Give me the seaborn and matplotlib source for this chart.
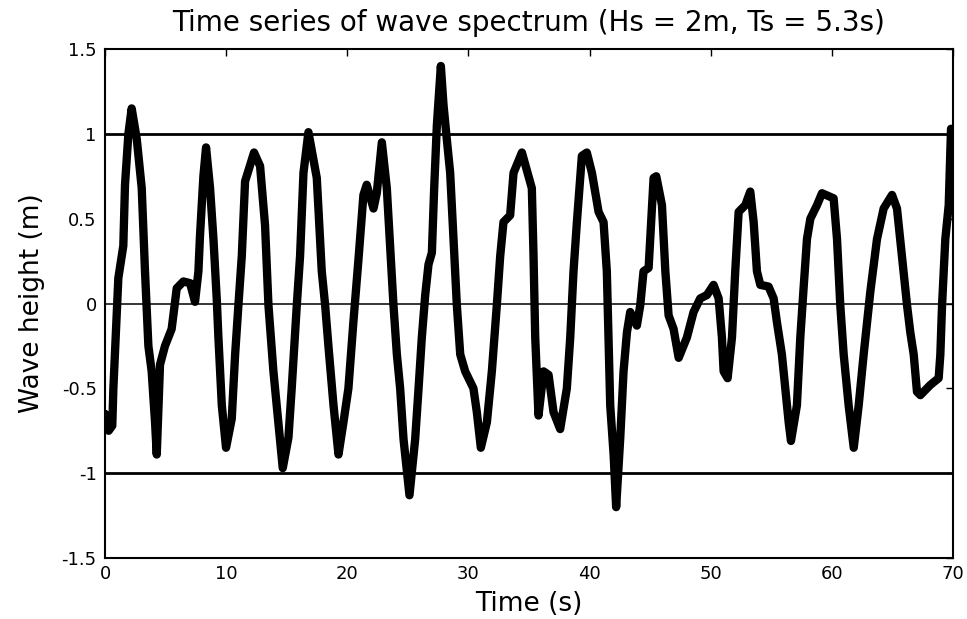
import numpy as np
import pandas as pd
import matplotlib
matplotlib.use("Agg")
import matplotlib.pyplot as plt
import seaborn as sns

# values (time in s, height in m)
time_s = [0.0, 0.3, 0.6, 0.69, 1.1, 1.51, 1.65, 1.93, 2.2, 2.62, 3.03, 3.3, 3.58, 3.85,
          4.13, 4.27, 4.54, 4.95, 5.5, 5.92, 6.47, 7.02, 7.43, 7.71, 7.84, 8.12, 8.34,
          8.67, 8.95, 9.22, 9.36, 9.64, 9.99, 10.46, 10.74, 11.01, 11.29, 11.56, 12.3,
          12.8, 13.21, 13.49, 13.9, 14.31, 14.67, 15.14, 15.41, 15.83, 16.1, 16.38, 16.79,
          17.48, 17.89, 18.17, 18.44, 18.86, 19.27, 19.68, 20.09, 20.5, 20.92, 21.33,
          21.6, 22.16, 22.43, 22.85, 23.26, 23.53, 23.81, 24.09, 24.36, 24.64, 25.13,
          25.6, 25.88, 26.15, 26.43, 26.7, 26.98, 27.17, 27.39, 27.72, 27.94, 28.21,
          28.49, 28.9, 29.04, 29.32, 29.73, 30.41, 30.69, 31.02, 31.52, 31.93, 32.34,
          32.62, 32.89, 33.44, 33.72, 34.41, 35.23, 35.37, 35.51, 35.78, 36.2, 36.61,
          37.02, 37.57, 38.12, 38.4, 38.67, 38.95, 39.36, 39.77, 40.19, 40.74, 41.15,
          41.42, 41.56, 41.7, 41.98, 42.19, 42.53, 42.8, 43.08, 43.35, 43.9, 44.18,
          44.45, 44.87, 45.28, 45.5, 45.97, 46.25, 46.52, 46.93, 47.35, 48.03, 48.58,
          49.13, 49.68, 50.23, 50.65, 50.92, 51.06, 51.39, 51.75, 52.02, 52.3, 52.85,
          53.26, 53.54, 53.81, 54.09, 54.77, 55.19, 55.46, 55.87, 56.15, 56.43, 56.62,
          57.11, 57.39, 57.66, 57.94, 58.22, 58.77, 59.18, 60.14, 60.42, 60.69, 60.97,
          61.38, 61.8, 62.21, 62.62, 63.17, 63.72, 64.27, 64.96, 65.37, 65.78, 66.2,
          66.47, 66.75, 67.02, 67.3, 68.12, 68.81, 68.95, 69.09, 69.36, 69.64, 69.83]
height_m = [-0.65, -0.75, -0.72, -0.5, 0.15, 0.34, 0.7, 1.0, 1.15, 0.97, 0.68, 0.19, -0.25, -0.4,
            -0.7, -0.89, -0.36, -0.25, -0.15, 0.09, 0.13, 0.12, 0.01, 0.19, 0.4, 0.75, 0.92,
            0.68, 0.38, 0.03, -0.2, -0.6, -0.85, -0.68, -0.3, -0.01, 0.28, 0.72, 0.89,
            0.81, 0.46, -0.01, -0.4, -0.7, -0.97, -0.79, -0.5, -0.01, 0.28, 0.77, 1.01,
            0.74, 0.19, -0.01, -0.25, -0.6, -0.89, -0.7, -0.5, -0.11, 0.26, 0.64,
            0.7, 0.56, 0.65, 0.95, 0.68, 0.34, -0.01, -0.3, -0.5, -0.8, -1.13,
            -0.8, -0.5, -0.2, 0.05, 0.23, 0.3, 0.68, 1.05, 1.4, 1.17, 0.97,
            0.77, 0.19, -0.01, -0.3, -0.4, -0.5, -0.64, -0.85, -0.7, -0.4, -0.01,
            0.28, 0.48, 0.52, 0.77, 0.89, 0.68, 0.28, -0.2, -0.66, -0.4, -0.42,
            -0.64, -0.74, -0.5, -0.2, 0.19, 0.48, 0.87, 0.89, 0.77, 0.54, 0.48,
            0.19, -0.2, -0.6, -0.89, -1.2, -0.79, -0.4, -0.17, -0.05, -0.13, -0.01,
            0.19, 0.21, 0.74, 0.75, 0.58, 0.19, -0.07, -0.15, -0.32, -0.2, -0.05,
            0.03, 0.05, 0.11, 0.03, -0.2, -0.4, -0.44, -0.2, 0.19, 0.54, 0.58,
            0.66, 0.48, 0.19, 0.11, 0.1, 0.03, -0.11, -0.3, -0.5, -0.7, -0.81,
            -0.6, -0.2, 0.09, 0.38, 0.5, 0.58, 0.65, 0.62, 0.38, -0.01, -0.3,
            -0.6, -0.85, -0.6, -0.3, 0.07, 0.38, 0.56, 0.64, 0.56, 0.28, -0.01,
            -0.17, -0.3, -0.52, -0.54, -0.48, -0.44, -0.3, -0.01, 0.38, 0.58, 1.03]
ref_levels = [1, 0, -1]
x_ticks = [0, 10, 20, 30, 40, 50, 60, 70]
y_ticks = [-1.5, -1, -0.5, 0, 0.5, 1, 1.5]
y_labels = ["-1.5", "-1", "-0.5", "0", "0.5", "1", "1.5"]

sns.set_theme(style="white")
plt.rcParams["font.family"] = ["DejaVu Sans"]
plt.rcParams["axes.unicode_minus"] = False
plt.rcParams["text.color"] = "black"
plt.rcParams["axes.labelcolor"] = "black"

df = pd.DataFrame({"t": time_s, "h": height_m})

fig = plt.figure(figsize=(9.67, 6.19), dpi=100)
ax = fig.add_axes([0.1086, 0.0985, 0.877, 0.8223])

for lvl in ref_levels:
    ax.axhline(lvl, color="black", lw=1.1 if lvl == 0 else 2.0, zorder=1)

sns.lineplot(data=df, x="t", y="h", estimator=None, sort=False, color="black",
             lw=6, ax=ax, zorder=2, solid_joinstyle="round", solid_capstyle="round")

ax.set_xlim(0, 70)
ax.set_ylim(-1.5, 1.5)
ax.set_xticks(x_ticks)
ax.set_yticks(y_ticks)
ax.set_yticklabels(y_labels)
ax.tick_params(direction="in", length=5, width=1, top=True, right=True,
               labelsize=13, colors="black")
ax.tick_params(axis="y", pad=6)
ax.tick_params(axis="x", pad=5)
for sp in ax.spines.values():
    sp.set_color("black")
    sp.set_linewidth(1.5)

ax.set_title("Time series of wave spectrum (Hs = 2m, Ts = 5.3s)", fontsize=20,
             pad=13, color="black")
ax.set_xlabel("Time (s)", fontsize=19, labelpad=6, color="black")
ax.set_ylabel("Wave height (m)", fontsize=19, color="black")
ax.yaxis.set_label_coords(-0.071, 0.5)

fig.savefig("out.png", dpi=100, facecolor="white")
